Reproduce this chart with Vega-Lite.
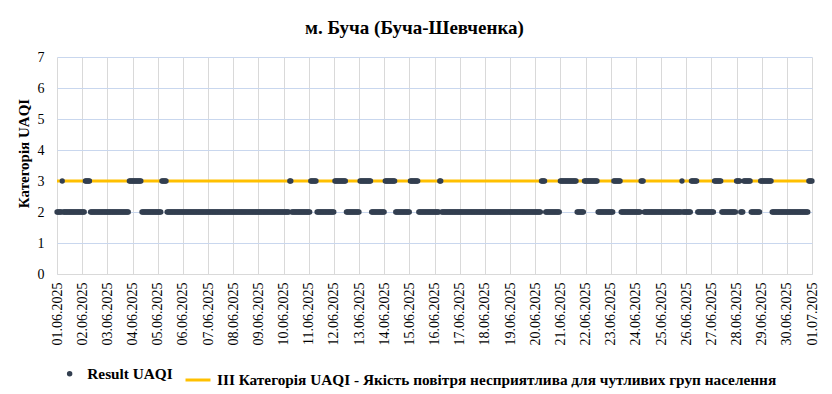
{
"$schema":"https://vega.github.io/schema/vega-lite/v6.json",
"width":755,"height":217,
"autosize":{"type":"none"},
"padding":{"left":57,"top":57,"right":20,"bottom":120},
"background":"white",
"title":{"text":"м. Буча (Буча-Шевченка)","font":"Times New Roman, Tinos, Noto Serif, FreeSerif, serif","fontSize":19,"fontWeight":"bold","color":"#000000","anchor":"middle","dx":-20,"offset":12},
"config":{"view":{"stroke":null}},
"datasets":{
"cat3":[{"t":"2025-06-01T00:00","v":3},{"t":"2025-07-01T00:00","v":3}],
"uaqi":[
{"t":"2025-06-01T00:00","v":2},{"t":"2025-06-01T01:00","v":2},{"t":"2025-06-01T02:00","v":2},{"t":"2025-06-01T03:00","v":2},{"t":"2025-06-01T04:00","v":2},{"t":"2025-06-01T05:00","v":3},{"t":"2025-06-01T06:00","v":2},{"t":"2025-06-01T07:00","v":2},{"t":"2025-06-01T08:00","v":2},{"t":"2025-06-01T09:00","v":2},{"t":"2025-06-01T10:00","v":2},{"t":"2025-06-01T11:00","v":2},{"t":"2025-06-01T12:00","v":2},{"t":"2025-06-01T13:00","v":2},{"t":"2025-06-01T14:00","v":2},{"t":"2025-06-01T15:00","v":2},{"t":"2025-06-01T16:00","v":2},{"t":"2025-06-01T17:00","v":2},{"t":"2025-06-01T18:00","v":2},{"t":"2025-06-01T19:00","v":2},{"t":"2025-06-01T20:00","v":2},{"t":"2025-06-01T21:00","v":2},{"t":"2025-06-01T22:00","v":2},{"t":"2025-06-01T23:00","v":2},
{"t":"2025-06-02T00:00","v":2},{"t":"2025-06-02T01:00","v":2},{"t":"2025-06-02T02:00","v":2},{"t":"2025-06-02T03:00","v":3},{"t":"2025-06-02T04:00","v":3},{"t":"2025-06-02T05:00","v":3},{"t":"2025-06-02T06:00","v":3},{"t":"2025-06-02T07:00","v":3},{"t":"2025-06-02T08:00","v":2},{"t":"2025-06-02T09:00","v":2},{"t":"2025-06-02T10:00","v":2},{"t":"2025-06-02T11:00","v":2},{"t":"2025-06-02T12:00","v":2},{"t":"2025-06-02T13:00","v":2},{"t":"2025-06-02T14:00","v":2},{"t":"2025-06-02T15:00","v":2},{"t":"2025-06-02T16:00","v":2},{"t":"2025-06-02T17:00","v":2},{"t":"2025-06-02T18:00","v":2},{"t":"2025-06-02T19:00","v":2},{"t":"2025-06-02T20:00","v":2},{"t":"2025-06-02T21:00","v":2},{"t":"2025-06-02T22:00","v":2},{"t":"2025-06-02T23:00","v":2},
{"t":"2025-06-03T00:00","v":2},{"t":"2025-06-03T01:00","v":2},{"t":"2025-06-03T02:00","v":2},{"t":"2025-06-03T03:00","v":2},{"t":"2025-06-03T04:00","v":2},{"t":"2025-06-03T05:00","v":2},{"t":"2025-06-03T06:00","v":2},{"t":"2025-06-03T07:00","v":2},{"t":"2025-06-03T08:00","v":2},{"t":"2025-06-03T09:00","v":2},{"t":"2025-06-03T10:00","v":2},{"t":"2025-06-03T11:00","v":2},{"t":"2025-06-03T12:00","v":2},{"t":"2025-06-03T13:00","v":2},{"t":"2025-06-03T14:00","v":2},{"t":"2025-06-03T15:00","v":2},{"t":"2025-06-03T16:00","v":2},{"t":"2025-06-03T17:00","v":2},{"t":"2025-06-03T18:00","v":2},{"t":"2025-06-03T19:00","v":2},{"t":"2025-06-03T20:00","v":2},{"t":"2025-06-03T21:00","v":3},{"t":"2025-06-03T22:00","v":3},{"t":"2025-06-03T23:00","v":3},
{"t":"2025-06-04T00:00","v":3},{"t":"2025-06-04T01:00","v":3},{"t":"2025-06-04T02:00","v":3},{"t":"2025-06-04T03:00","v":3},{"t":"2025-06-04T04:00","v":3},{"t":"2025-06-04T05:00","v":3},{"t":"2025-06-04T06:00","v":3},{"t":"2025-06-04T07:00","v":3},{"t":"2025-06-04T08:00","v":3},{"t":"2025-06-04T09:00","v":2},{"t":"2025-06-04T10:00","v":2},{"t":"2025-06-04T11:00","v":2},{"t":"2025-06-04T12:00","v":2},{"t":"2025-06-04T13:00","v":2},{"t":"2025-06-04T14:00","v":2},{"t":"2025-06-04T15:00","v":2},{"t":"2025-06-04T16:00","v":2},{"t":"2025-06-04T17:00","v":2},{"t":"2025-06-04T18:00","v":2},{"t":"2025-06-04T19:00","v":2},{"t":"2025-06-04T20:00","v":2},{"t":"2025-06-04T21:00","v":2},{"t":"2025-06-04T22:00","v":2},{"t":"2025-06-04T23:00","v":2},
{"t":"2025-06-05T00:00","v":2},{"t":"2025-06-05T01:00","v":2},{"t":"2025-06-05T02:00","v":2},{"t":"2025-06-05T03:00","v":2},{"t":"2025-06-05T04:00","v":3},{"t":"2025-06-05T05:00","v":3},{"t":"2025-06-05T06:00","v":3},{"t":"2025-06-05T07:00","v":3},{"t":"2025-06-05T08:00","v":3},{"t":"2025-06-05T09:00","v":2},{"t":"2025-06-05T10:00","v":2},{"t":"2025-06-05T11:00","v":2},{"t":"2025-06-05T12:00","v":2},{"t":"2025-06-05T13:00","v":2},{"t":"2025-06-05T14:00","v":2},{"t":"2025-06-05T15:00","v":2},{"t":"2025-06-05T16:00","v":2},{"t":"2025-06-05T17:00","v":2},{"t":"2025-06-05T18:00","v":2},{"t":"2025-06-05T19:00","v":2},{"t":"2025-06-05T20:00","v":2},{"t":"2025-06-05T21:00","v":2},{"t":"2025-06-05T22:00","v":2},{"t":"2025-06-05T23:00","v":2},
{"t":"2025-06-06T00:00","v":2},{"t":"2025-06-06T01:00","v":2},{"t":"2025-06-06T02:00","v":2},{"t":"2025-06-06T03:00","v":2},{"t":"2025-06-06T04:00","v":2},{"t":"2025-06-06T05:00","v":2},{"t":"2025-06-06T06:00","v":2},{"t":"2025-06-06T07:00","v":2},{"t":"2025-06-06T08:00","v":2},{"t":"2025-06-06T09:00","v":2},{"t":"2025-06-06T10:00","v":2},{"t":"2025-06-06T11:00","v":2},{"t":"2025-06-06T12:00","v":2},{"t":"2025-06-06T13:00","v":2},{"t":"2025-06-06T14:00","v":2},{"t":"2025-06-06T15:00","v":2},{"t":"2025-06-06T16:00","v":2},{"t":"2025-06-06T17:00","v":2},{"t":"2025-06-06T18:00","v":2},{"t":"2025-06-06T19:00","v":2},{"t":"2025-06-06T20:00","v":2},{"t":"2025-06-06T21:00","v":2},{"t":"2025-06-06T22:00","v":2},{"t":"2025-06-06T23:00","v":2},
{"t":"2025-06-07T00:00","v":2},{"t":"2025-06-07T01:00","v":2},{"t":"2025-06-07T02:00","v":2},{"t":"2025-06-07T03:00","v":2},{"t":"2025-06-07T04:00","v":2},{"t":"2025-06-07T05:00","v":2},{"t":"2025-06-07T06:00","v":2},{"t":"2025-06-07T07:00","v":2},{"t":"2025-06-07T08:00","v":2},{"t":"2025-06-07T09:00","v":2},{"t":"2025-06-07T10:00","v":2},{"t":"2025-06-07T11:00","v":2},{"t":"2025-06-07T12:00","v":2},{"t":"2025-06-07T13:00","v":2},{"t":"2025-06-07T14:00","v":2},{"t":"2025-06-07T15:00","v":2},{"t":"2025-06-07T16:00","v":2},{"t":"2025-06-07T17:00","v":2},{"t":"2025-06-07T18:00","v":2},{"t":"2025-06-07T19:00","v":2},{"t":"2025-06-07T20:00","v":2},{"t":"2025-06-07T21:00","v":2},{"t":"2025-06-07T22:00","v":2},{"t":"2025-06-07T23:00","v":2},
{"t":"2025-06-08T00:00","v":2},{"t":"2025-06-08T01:00","v":2},{"t":"2025-06-08T02:00","v":2},{"t":"2025-06-08T03:00","v":2},{"t":"2025-06-08T04:00","v":2},{"t":"2025-06-08T05:00","v":2},{"t":"2025-06-08T06:00","v":2},{"t":"2025-06-08T07:00","v":2},{"t":"2025-06-08T08:00","v":2},{"t":"2025-06-08T09:00","v":2},{"t":"2025-06-08T10:00","v":2},{"t":"2025-06-08T11:00","v":2},{"t":"2025-06-08T12:00","v":2},{"t":"2025-06-08T13:00","v":2},{"t":"2025-06-08T14:00","v":2},{"t":"2025-06-08T15:00","v":2},{"t":"2025-06-08T16:00","v":2},{"t":"2025-06-08T17:00","v":2},{"t":"2025-06-08T18:00","v":2},{"t":"2025-06-08T19:00","v":2},{"t":"2025-06-08T20:00","v":2},{"t":"2025-06-08T21:00","v":2},{"t":"2025-06-08T22:00","v":2},{"t":"2025-06-08T23:00","v":2},
{"t":"2025-06-09T00:00","v":2},{"t":"2025-06-09T01:00","v":2},{"t":"2025-06-09T02:00","v":2},{"t":"2025-06-09T03:00","v":2},{"t":"2025-06-09T04:00","v":2},{"t":"2025-06-09T05:00","v":2},{"t":"2025-06-09T06:00","v":2},{"t":"2025-06-09T07:00","v":2},{"t":"2025-06-09T08:00","v":2},{"t":"2025-06-09T09:00","v":2},{"t":"2025-06-09T10:00","v":2},{"t":"2025-06-09T11:00","v":2},{"t":"2025-06-09T12:00","v":2},{"t":"2025-06-09T13:00","v":2},{"t":"2025-06-09T14:00","v":2},{"t":"2025-06-09T15:00","v":2},{"t":"2025-06-09T16:00","v":2},{"t":"2025-06-09T17:00","v":2},{"t":"2025-06-09T18:00","v":2},{"t":"2025-06-09T19:00","v":2},{"t":"2025-06-09T20:00","v":2},{"t":"2025-06-09T21:00","v":2},{"t":"2025-06-09T22:00","v":2},{"t":"2025-06-09T23:00","v":2},
{"t":"2025-06-10T00:00","v":2},{"t":"2025-06-10T01:00","v":2},{"t":"2025-06-10T02:00","v":2},{"t":"2025-06-10T03:00","v":2},{"t":"2025-06-10T04:00","v":2},{"t":"2025-06-10T05:00","v":2},{"t":"2025-06-10T06:00","v":3},{"t":"2025-06-10T07:00","v":3},{"t":"2025-06-10T08:00","v":2},{"t":"2025-06-10T09:00","v":2},{"t":"2025-06-10T10:00","v":2},{"t":"2025-06-10T11:00","v":2},{"t":"2025-06-10T12:00","v":2},{"t":"2025-06-10T13:00","v":2},{"t":"2025-06-10T14:00","v":2},{"t":"2025-06-10T15:00","v":2},{"t":"2025-06-10T16:00","v":2},{"t":"2025-06-10T17:00","v":2},{"t":"2025-06-10T18:00","v":2},{"t":"2025-06-10T19:00","v":2},{"t":"2025-06-10T20:00","v":2},{"t":"2025-06-10T21:00","v":2},{"t":"2025-06-10T22:00","v":2},{"t":"2025-06-10T23:00","v":2},
{"t":"2025-06-11T00:00","v":2},{"t":"2025-06-11T01:00","v":2},{"t":"2025-06-11T02:00","v":3},{"t":"2025-06-11T03:00","v":3},{"t":"2025-06-11T04:00","v":3},{"t":"2025-06-11T05:00","v":3},{"t":"2025-06-11T06:00","v":3},{"t":"2025-06-11T07:00","v":3},{"t":"2025-06-11T08:00","v":2},{"t":"2025-06-11T09:00","v":2},{"t":"2025-06-11T10:00","v":2},{"t":"2025-06-11T11:00","v":2},{"t":"2025-06-11T12:00","v":2},{"t":"2025-06-11T13:00","v":2},{"t":"2025-06-11T14:00","v":2},{"t":"2025-06-11T15:00","v":2},{"t":"2025-06-11T16:00","v":2},{"t":"2025-06-11T17:00","v":2},{"t":"2025-06-11T18:00","v":2},{"t":"2025-06-11T19:00","v":2},{"t":"2025-06-11T20:00","v":2},{"t":"2025-06-11T21:00","v":2},{"t":"2025-06-11T22:00","v":2},{"t":"2025-06-11T23:00","v":2},
{"t":"2025-06-12T00:00","v":2},{"t":"2025-06-12T01:00","v":3},{"t":"2025-06-12T02:00","v":3},{"t":"2025-06-12T03:00","v":3},{"t":"2025-06-12T04:00","v":3},{"t":"2025-06-12T05:00","v":3},{"t":"2025-06-12T06:00","v":3},{"t":"2025-06-12T07:00","v":3},{"t":"2025-06-12T08:00","v":3},{"t":"2025-06-12T09:00","v":3},{"t":"2025-06-12T10:00","v":3},{"t":"2025-06-12T11:00","v":3},{"t":"2025-06-12T12:00","v":2},{"t":"2025-06-12T13:00","v":2},{"t":"2025-06-12T14:00","v":2},{"t":"2025-06-12T15:00","v":2},{"t":"2025-06-12T16:00","v":2},{"t":"2025-06-12T17:00","v":2},{"t":"2025-06-12T18:00","v":2},{"t":"2025-06-12T19:00","v":2},{"t":"2025-06-12T20:00","v":2},{"t":"2025-06-12T21:00","v":2},{"t":"2025-06-12T22:00","v":2},{"t":"2025-06-12T23:00","v":2},
{"t":"2025-06-13T00:00","v":2},{"t":"2025-06-13T01:00","v":3},{"t":"2025-06-13T02:00","v":3},{"t":"2025-06-13T03:00","v":3},{"t":"2025-06-13T04:00","v":3},{"t":"2025-06-13T05:00","v":3},{"t":"2025-06-13T06:00","v":3},{"t":"2025-06-13T07:00","v":3},{"t":"2025-06-13T08:00","v":3},{"t":"2025-06-13T09:00","v":3},{"t":"2025-06-13T10:00","v":3},{"t":"2025-06-13T11:00","v":3},{"t":"2025-06-13T12:00","v":2},{"t":"2025-06-13T13:00","v":2},{"t":"2025-06-13T14:00","v":2},{"t":"2025-06-13T15:00","v":2},{"t":"2025-06-13T16:00","v":2},{"t":"2025-06-13T17:00","v":2},{"t":"2025-06-13T18:00","v":2},{"t":"2025-06-13T19:00","v":2},{"t":"2025-06-13T20:00","v":2},{"t":"2025-06-13T21:00","v":2},{"t":"2025-06-13T22:00","v":2},{"t":"2025-06-13T23:00","v":2},
{"t":"2025-06-14T00:00","v":2},{"t":"2025-06-14T01:00","v":3},{"t":"2025-06-14T02:00","v":3},{"t":"2025-06-14T03:00","v":3},{"t":"2025-06-14T04:00","v":3},{"t":"2025-06-14T05:00","v":3},{"t":"2025-06-14T06:00","v":3},{"t":"2025-06-14T07:00","v":3},{"t":"2025-06-14T08:00","v":3},{"t":"2025-06-14T09:00","v":3},{"t":"2025-06-14T10:00","v":3},{"t":"2025-06-14T11:00","v":2},{"t":"2025-06-14T12:00","v":2},{"t":"2025-06-14T13:00","v":2},{"t":"2025-06-14T14:00","v":2},{"t":"2025-06-14T15:00","v":2},{"t":"2025-06-14T16:00","v":2},{"t":"2025-06-14T17:00","v":2},{"t":"2025-06-14T18:00","v":2},{"t":"2025-06-14T19:00","v":2},{"t":"2025-06-14T20:00","v":2},{"t":"2025-06-14T21:00","v":2},{"t":"2025-06-14T22:00","v":2},{"t":"2025-06-14T23:00","v":2},
{"t":"2025-06-15T00:00","v":2},{"t":"2025-06-15T01:00","v":3},{"t":"2025-06-15T02:00","v":3},{"t":"2025-06-15T03:00","v":3},{"t":"2025-06-15T04:00","v":3},{"t":"2025-06-15T05:00","v":3},{"t":"2025-06-15T06:00","v":3},{"t":"2025-06-15T07:00","v":3},{"t":"2025-06-15T08:00","v":3},{"t":"2025-06-15T09:00","v":2},{"t":"2025-06-15T10:00","v":2},{"t":"2025-06-15T11:00","v":2},{"t":"2025-06-15T12:00","v":2},{"t":"2025-06-15T13:00","v":2},{"t":"2025-06-15T14:00","v":2},{"t":"2025-06-15T15:00","v":2},{"t":"2025-06-15T16:00","v":2},{"t":"2025-06-15T17:00","v":2},{"t":"2025-06-15T18:00","v":2},{"t":"2025-06-15T19:00","v":2},{"t":"2025-06-15T20:00","v":2},{"t":"2025-06-15T21:00","v":2},{"t":"2025-06-15T22:00","v":2},{"t":"2025-06-15T23:00","v":2},
{"t":"2025-06-16T00:00","v":2},{"t":"2025-06-16T01:00","v":2},{"t":"2025-06-16T02:00","v":2},{"t":"2025-06-16T03:00","v":2},{"t":"2025-06-16T04:00","v":2},{"t":"2025-06-16T05:00","v":3},{"t":"2025-06-16T06:00","v":3},{"t":"2025-06-16T07:00","v":2},{"t":"2025-06-16T08:00","v":2},{"t":"2025-06-16T09:00","v":2},{"t":"2025-06-16T10:00","v":2},{"t":"2025-06-16T11:00","v":2},{"t":"2025-06-16T12:00","v":2},{"t":"2025-06-16T13:00","v":2},{"t":"2025-06-16T14:00","v":2},{"t":"2025-06-16T15:00","v":2},{"t":"2025-06-16T16:00","v":2},{"t":"2025-06-16T17:00","v":2},{"t":"2025-06-16T18:00","v":2},{"t":"2025-06-16T19:00","v":2},{"t":"2025-06-16T20:00","v":2},{"t":"2025-06-16T21:00","v":2},{"t":"2025-06-16T22:00","v":2},{"t":"2025-06-16T23:00","v":2},
{"t":"2025-06-17T00:00","v":2},{"t":"2025-06-17T01:00","v":2},{"t":"2025-06-17T02:00","v":2},{"t":"2025-06-17T03:00","v":2},{"t":"2025-06-17T04:00","v":2},{"t":"2025-06-17T05:00","v":2},{"t":"2025-06-17T06:00","v":2},{"t":"2025-06-17T07:00","v":2},{"t":"2025-06-17T08:00","v":2},{"t":"2025-06-17T09:00","v":2},{"t":"2025-06-17T10:00","v":2},{"t":"2025-06-17T11:00","v":2},{"t":"2025-06-17T12:00","v":2},{"t":"2025-06-17T13:00","v":2},{"t":"2025-06-17T14:00","v":2},{"t":"2025-06-17T15:00","v":2},{"t":"2025-06-17T16:00","v":2},{"t":"2025-06-17T17:00","v":2},{"t":"2025-06-17T18:00","v":2},{"t":"2025-06-17T19:00","v":2},{"t":"2025-06-17T20:00","v":2},{"t":"2025-06-17T21:00","v":2},{"t":"2025-06-17T22:00","v":2},{"t":"2025-06-17T23:00","v":2},
{"t":"2025-06-18T00:00","v":2},{"t":"2025-06-18T01:00","v":2},{"t":"2025-06-18T02:00","v":2},{"t":"2025-06-18T03:00","v":2},{"t":"2025-06-18T04:00","v":2},{"t":"2025-06-18T05:00","v":2},{"t":"2025-06-18T06:00","v":2},{"t":"2025-06-18T07:00","v":2},{"t":"2025-06-18T08:00","v":2},{"t":"2025-06-18T09:00","v":2},{"t":"2025-06-18T10:00","v":2},{"t":"2025-06-18T11:00","v":2},{"t":"2025-06-18T12:00","v":2},{"t":"2025-06-18T13:00","v":2},{"t":"2025-06-18T14:00","v":2},{"t":"2025-06-18T15:00","v":2},{"t":"2025-06-18T16:00","v":2},{"t":"2025-06-18T17:00","v":2},{"t":"2025-06-18T18:00","v":2},{"t":"2025-06-18T19:00","v":2},{"t":"2025-06-18T20:00","v":2},{"t":"2025-06-18T21:00","v":2},{"t":"2025-06-18T22:00","v":2},{"t":"2025-06-18T23:00","v":2},
{"t":"2025-06-19T00:00","v":2},{"t":"2025-06-19T01:00","v":2},{"t":"2025-06-19T02:00","v":2},{"t":"2025-06-19T03:00","v":2},{"t":"2025-06-19T04:00","v":2},{"t":"2025-06-19T05:00","v":2},{"t":"2025-06-19T06:00","v":2},{"t":"2025-06-19T07:00","v":2},{"t":"2025-06-19T08:00","v":2},{"t":"2025-06-19T09:00","v":2},{"t":"2025-06-19T10:00","v":2},{"t":"2025-06-19T11:00","v":2},{"t":"2025-06-19T12:00","v":2},{"t":"2025-06-19T13:00","v":2},{"t":"2025-06-19T14:00","v":2},{"t":"2025-06-19T15:00","v":2},{"t":"2025-06-19T16:00","v":2},{"t":"2025-06-19T17:00","v":2},{"t":"2025-06-19T18:00","v":2},{"t":"2025-06-19T19:00","v":2},{"t":"2025-06-19T20:00","v":2},{"t":"2025-06-19T21:00","v":2},{"t":"2025-06-19T22:00","v":2},{"t":"2025-06-19T23:00","v":2},
{"t":"2025-06-20T00:00","v":2},{"t":"2025-06-20T01:00","v":2},{"t":"2025-06-20T02:00","v":2},{"t":"2025-06-20T03:00","v":2},{"t":"2025-06-20T04:00","v":2},{"t":"2025-06-20T05:00","v":2},{"t":"2025-06-20T06:00","v":3},{"t":"2025-06-20T07:00","v":3},{"t":"2025-06-20T08:00","v":3},{"t":"2025-06-20T09:00","v":3},{"t":"2025-06-20T10:00","v":2},{"t":"2025-06-20T11:00","v":2},{"t":"2025-06-20T12:00","v":2},{"t":"2025-06-20T13:00","v":2},{"t":"2025-06-20T14:00","v":2},{"t":"2025-06-20T15:00","v":2},{"t":"2025-06-20T16:00","v":2},{"t":"2025-06-20T17:00","v":2},{"t":"2025-06-20T18:00","v":2},{"t":"2025-06-20T19:00","v":2},{"t":"2025-06-20T20:00","v":2},{"t":"2025-06-20T21:00","v":2},{"t":"2025-06-20T22:00","v":2},{"t":"2025-06-20T23:00","v":2},
{"t":"2025-06-21T00:00","v":3},{"t":"2025-06-21T01:00","v":3},{"t":"2025-06-21T02:00","v":3},{"t":"2025-06-21T03:00","v":3},{"t":"2025-06-21T04:00","v":3},{"t":"2025-06-21T05:00","v":3},{"t":"2025-06-21T06:00","v":3},{"t":"2025-06-21T07:00","v":3},{"t":"2025-06-21T08:00","v":3},{"t":"2025-06-21T09:00","v":3},{"t":"2025-06-21T10:00","v":3},{"t":"2025-06-21T11:00","v":3},{"t":"2025-06-21T12:00","v":3},{"t":"2025-06-21T13:00","v":3},{"t":"2025-06-21T14:00","v":3},{"t":"2025-06-21T15:00","v":3},{"t":"2025-06-21T16:00","v":2},{"t":"2025-06-21T17:00","v":2},{"t":"2025-06-21T18:00","v":2},{"t":"2025-06-21T19:00","v":2},{"t":"2025-06-21T20:00","v":2},{"t":"2025-06-21T21:00","v":2},{"t":"2025-06-21T22:00","v":2},{"t":"2025-06-21T23:00","v":3},
{"t":"2025-06-22T00:00","v":3},{"t":"2025-06-22T01:00","v":3},{"t":"2025-06-22T02:00","v":3},{"t":"2025-06-22T03:00","v":3},{"t":"2025-06-22T04:00","v":3},{"t":"2025-06-22T05:00","v":3},{"t":"2025-06-22T06:00","v":3},{"t":"2025-06-22T07:00","v":3},{"t":"2025-06-22T08:00","v":3},{"t":"2025-06-22T09:00","v":3},{"t":"2025-06-22T10:00","v":3},{"t":"2025-06-22T11:00","v":3},{"t":"2025-06-22T12:00","v":2},{"t":"2025-06-22T13:00","v":2},{"t":"2025-06-22T14:00","v":2},{"t":"2025-06-22T15:00","v":2},{"t":"2025-06-22T16:00","v":2},{"t":"2025-06-22T17:00","v":2},{"t":"2025-06-22T18:00","v":2},{"t":"2025-06-22T19:00","v":2},{"t":"2025-06-22T20:00","v":2},{"t":"2025-06-22T21:00","v":2},{"t":"2025-06-22T22:00","v":2},{"t":"2025-06-22T23:00","v":2},
{"t":"2025-06-23T00:00","v":2},{"t":"2025-06-23T01:00","v":2},{"t":"2025-06-23T02:00","v":2},{"t":"2025-06-23T03:00","v":3},{"t":"2025-06-23T04:00","v":3},{"t":"2025-06-23T05:00","v":3},{"t":"2025-06-23T06:00","v":3},{"t":"2025-06-23T07:00","v":3},{"t":"2025-06-23T08:00","v":3},{"t":"2025-06-23T09:00","v":3},{"t":"2025-06-23T10:00","v":2},{"t":"2025-06-23T11:00","v":2},{"t":"2025-06-23T12:00","v":2},{"t":"2025-06-23T13:00","v":2},{"t":"2025-06-23T14:00","v":2},{"t":"2025-06-23T15:00","v":2},{"t":"2025-06-23T16:00","v":2},{"t":"2025-06-23T17:00","v":2},{"t":"2025-06-23T18:00","v":2},{"t":"2025-06-23T19:00","v":2},{"t":"2025-06-23T20:00","v":2},{"t":"2025-06-23T21:00","v":2},{"t":"2025-06-23T22:00","v":2},{"t":"2025-06-23T23:00","v":2},
{"t":"2025-06-24T00:00","v":2},{"t":"2025-06-24T01:00","v":2},{"t":"2025-06-24T02:00","v":2},{"t":"2025-06-24T03:00","v":2},{"t":"2025-06-24T04:00","v":2},{"t":"2025-06-24T05:00","v":3},{"t":"2025-06-24T06:00","v":3},{"t":"2025-06-24T07:00","v":3},{"t":"2025-06-24T08:00","v":2},{"t":"2025-06-24T09:00","v":2},{"t":"2025-06-24T10:00","v":2},{"t":"2025-06-24T11:00","v":2},{"t":"2025-06-24T12:00","v":2},{"t":"2025-06-24T13:00","v":2},{"t":"2025-06-24T14:00","v":2},{"t":"2025-06-24T15:00","v":2},{"t":"2025-06-24T16:00","v":2},{"t":"2025-06-24T17:00","v":2},{"t":"2025-06-24T18:00","v":2},{"t":"2025-06-24T19:00","v":2},{"t":"2025-06-24T20:00","v":2},{"t":"2025-06-24T21:00","v":2},{"t":"2025-06-24T22:00","v":2},{"t":"2025-06-24T23:00","v":2},
{"t":"2025-06-25T00:00","v":2},{"t":"2025-06-25T01:00","v":2},{"t":"2025-06-25T02:00","v":2},{"t":"2025-06-25T03:00","v":2},{"t":"2025-06-25T04:00","v":2},{"t":"2025-06-25T05:00","v":2},{"t":"2025-06-25T06:00","v":2},{"t":"2025-06-25T07:00","v":2},{"t":"2025-06-25T08:00","v":2},{"t":"2025-06-25T09:00","v":2},{"t":"2025-06-25T10:00","v":2},{"t":"2025-06-25T11:00","v":2},{"t":"2025-06-25T12:00","v":2},{"t":"2025-06-25T13:00","v":2},{"t":"2025-06-25T14:00","v":2},{"t":"2025-06-25T15:00","v":2},{"t":"2025-06-25T16:00","v":2},{"t":"2025-06-25T17:00","v":2},{"t":"2025-06-25T18:00","v":2},{"t":"2025-06-25T19:00","v":2},{"t":"2025-06-25T20:00","v":3},{"t":"2025-06-25T21:00","v":2},{"t":"2025-06-25T22:00","v":2},{"t":"2025-06-25T23:00","v":2},
{"t":"2025-06-26T00:00","v":2},{"t":"2025-06-26T01:00","v":2},{"t":"2025-06-26T02:00","v":2},{"t":"2025-06-26T03:00","v":2},{"t":"2025-06-26T04:00","v":2},{"t":"2025-06-26T05:00","v":3},{"t":"2025-06-26T06:00","v":3},{"t":"2025-06-26T07:00","v":3},{"t":"2025-06-26T08:00","v":3},{"t":"2025-06-26T09:00","v":3},{"t":"2025-06-26T10:00","v":3},{"t":"2025-06-26T11:00","v":2},{"t":"2025-06-26T12:00","v":2},{"t":"2025-06-26T13:00","v":2},{"t":"2025-06-26T14:00","v":2},{"t":"2025-06-26T15:00","v":2},{"t":"2025-06-26T16:00","v":2},{"t":"2025-06-26T17:00","v":2},{"t":"2025-06-26T18:00","v":2},{"t":"2025-06-26T19:00","v":2},{"t":"2025-06-26T20:00","v":2},{"t":"2025-06-26T21:00","v":2},{"t":"2025-06-26T22:00","v":2},{"t":"2025-06-26T23:00","v":2},
{"t":"2025-06-27T00:00","v":2},{"t":"2025-06-27T01:00","v":2},{"t":"2025-06-27T02:00","v":2},{"t":"2025-06-27T03:00","v":3},{"t":"2025-06-27T04:00","v":3},{"t":"2025-06-27T05:00","v":3},{"t":"2025-06-27T06:00","v":3},{"t":"2025-06-27T07:00","v":3},{"t":"2025-06-27T08:00","v":3},{"t":"2025-06-27T09:00","v":3},{"t":"2025-06-27T10:00","v":2},{"t":"2025-06-27T11:00","v":2},{"t":"2025-06-27T12:00","v":2},{"t":"2025-06-27T13:00","v":2},{"t":"2025-06-27T14:00","v":2},{"t":"2025-06-27T15:00","v":2},{"t":"2025-06-27T16:00","v":2},{"t":"2025-06-27T17:00","v":2},{"t":"2025-06-27T18:00","v":2},{"t":"2025-06-27T19:00","v":2},{"t":"2025-06-27T20:00","v":2},{"t":"2025-06-27T21:00","v":2},{"t":"2025-06-27T22:00","v":2},{"t":"2025-06-27T23:00","v":2},
{"t":"2025-06-28T00:00","v":3},{"t":"2025-06-28T01:00","v":3},{"t":"2025-06-28T02:00","v":3},{"t":"2025-06-28T03:00","v":3},{"t":"2025-06-28T04:00","v":2},{"t":"2025-06-28T05:00","v":2},{"t":"2025-06-28T06:00","v":2},{"t":"2025-06-28T07:00","v":3},{"t":"2025-06-28T08:00","v":3},{"t":"2025-06-28T09:00","v":3},{"t":"2025-06-28T10:00","v":3},{"t":"2025-06-28T11:00","v":3},{"t":"2025-06-28T12:00","v":3},{"t":"2025-06-28T13:00","v":3},{"t":"2025-06-28T14:00","v":2},{"t":"2025-06-28T15:00","v":2},{"t":"2025-06-28T16:00","v":2},{"t":"2025-06-28T17:00","v":2},{"t":"2025-06-28T18:00","v":2},{"t":"2025-06-28T19:00","v":2},{"t":"2025-06-28T20:00","v":2},{"t":"2025-06-28T21:00","v":2},{"t":"2025-06-28T22:00","v":2},{"t":"2025-06-28T23:00","v":3},
{"t":"2025-06-29T00:00","v":3},{"t":"2025-06-29T01:00","v":3},{"t":"2025-06-29T02:00","v":3},{"t":"2025-06-29T03:00","v":3},{"t":"2025-06-29T04:00","v":3},{"t":"2025-06-29T05:00","v":3},{"t":"2025-06-29T06:00","v":3},{"t":"2025-06-29T07:00","v":3},{"t":"2025-06-29T08:00","v":3},{"t":"2025-06-29T09:00","v":3},{"t":"2025-06-29T10:00","v":2},{"t":"2025-06-29T11:00","v":2},{"t":"2025-06-29T12:00","v":2},{"t":"2025-06-29T13:00","v":2},{"t":"2025-06-29T14:00","v":2},{"t":"2025-06-29T15:00","v":2},{"t":"2025-06-29T16:00","v":2},{"t":"2025-06-29T17:00","v":2},{"t":"2025-06-29T18:00","v":2},{"t":"2025-06-29T19:00","v":2},{"t":"2025-06-29T20:00","v":2},{"t":"2025-06-29T21:00","v":2},{"t":"2025-06-29T22:00","v":2},{"t":"2025-06-29T23:00","v":2},
{"t":"2025-06-30T00:00","v":2},{"t":"2025-06-30T01:00","v":2},{"t":"2025-06-30T02:00","v":2},{"t":"2025-06-30T03:00","v":2},{"t":"2025-06-30T04:00","v":2},{"t":"2025-06-30T05:00","v":2},{"t":"2025-06-30T06:00","v":2},{"t":"2025-06-30T07:00","v":2},{"t":"2025-06-30T08:00","v":2},{"t":"2025-06-30T09:00","v":2},{"t":"2025-06-30T10:00","v":2},{"t":"2025-06-30T11:00","v":2},{"t":"2025-06-30T12:00","v":2},{"t":"2025-06-30T13:00","v":2},{"t":"2025-06-30T14:00","v":2},{"t":"2025-06-30T15:00","v":2},{"t":"2025-06-30T16:00","v":2},{"t":"2025-06-30T17:00","v":2},{"t":"2025-06-30T18:00","v":2},{"t":"2025-06-30T19:00","v":2},{"t":"2025-06-30T20:00","v":2},{"t":"2025-06-30T21:00","v":3},{"t":"2025-06-30T22:00","v":3},{"t":"2025-06-30T23:00","v":3},
{"t":"2025-07-01T00:00","v":3}
]},
"encoding":{
"x":{"field":"t","type":"temporal","scale":{"domain":["2025-06-01T00:00","2025-07-01T00:00"],"nice":false},
 "axis":{"title":null,"format":"%d.%m.%Y","tickCount":{"interval":"day","step":1},"labelAngle":-90,"labelOverlap":false,"labelBound":false,"labelFlush":false,
 "labelFont":"Times New Roman, Tinos, Noto Serif, FreeSerif, serif","labelFontSize":14,"labelColor":"#000000","labelPadding":8,"ticks":false,
 "domainColor":"#d9d9d9","domainWidth":1,"grid":true,"gridColor":"#d9d9d9","gridWidth":1}},
"y":{"field":"v","type":"quantitative","scale":{"domain":[0,7],"nice":false},
 "axis":{"values":[0,1,2,3,4,5,6,7],"title":"Категорія UAQI","titleFont":"Times New Roman, Tinos, Noto Serif, FreeSerif, serif","titleFontSize":15,"titleFontWeight":"bold","titleColor":"#000000",
 "titleX":-29,"titleY":96,"titleAngle":270,"titleBaseline":"alphabetic","titleAlign":"center",
 "labelFont":"Times New Roman, Tinos, Noto Serif, FreeSerif, serif","labelFontSize":14,"labelColor":"#000000","labelPadding":13,"ticks":false,"domain":false,
 "grid":true,"gridColor":"#c9d7ee","gridWidth":1}}
},
"layer":[
{"data":{"name":"cat3"},"mark":{"type":"line","strokeWidth":3,"strokeCap":"butt"},
 "encoding":{"stroke":{"datum":"III Категорія UAQI - Якість повітря несприятлива для чутливих груп населення","type":"nominal",
  "scale":{"range":["#FFC000"]},
  "legend":{"title":null,"orient":"none","direction":"horizontal","legendX":127,"legendY":309,
   "labelFont":"Times New Roman, Tinos, Noto Serif, FreeSerif, serif","labelFontSize":15.3,"labelFontWeight":"bold","labelColor":"#000000","labelLimit":700,
   "labelOffset":5,"symbolType":"stroke","symbolSize":625,"symbolStrokeWidth":3}}}},
{"data":{"name":"uaqi"},"mark":{"type":"circle","size":28,"opacity":1},
 "encoding":{"color":{"datum":"Result UAQI","type":"nominal",
  "scale":{"range":["#333F50"]},
  "legend":{"title":null,"orient":"none","direction":"horizontal","legendX":5,"legendY":309,
   "labelFont":"Times New Roman, Tinos, Noto Serif, FreeSerif, serif","labelFontSize":15.3,"labelFontWeight":"bold","labelColor":"#000000","labelLimit":300,
   "labelOffset":10,"symbolType":"circle","symbolSize":30,"symbolOpacity":1}}}}
],
"resolve":{"scale":{"color":"independent","stroke":"independent"},"legend":{"color":"independent","stroke":"independent"}}
}
